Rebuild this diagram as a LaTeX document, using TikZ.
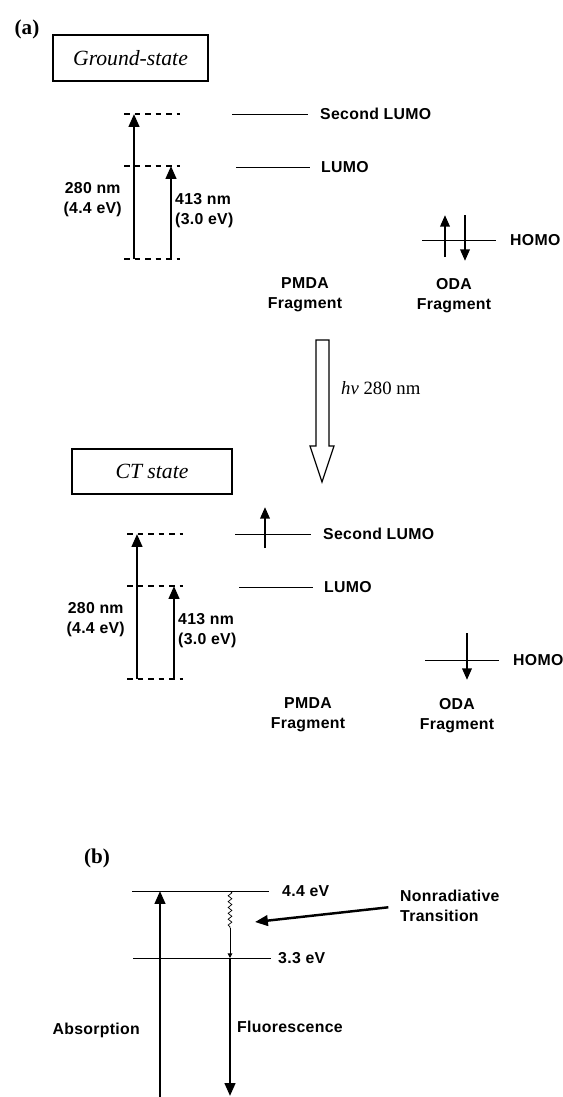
\documentclass[tikz,border=0pt]{standalone}
\usepackage{fontspec}
\setmainfont{Liberation Serif}
\newfontfamily\lblfont[LetterSpace=2]{Liberation Sans}
\usetikzlibrary{arrows.meta,positioning,decorations.pathmorphing}

\tikzset{
  lbl/.style={font=\lblfont\bfseries\fontsize{13.5}{17}\selectfont, inner sep=0pt},
  tag/.style={font=\bfseries\fontsize{18}{20}\selectfont, inner sep=0pt},
  statebox/.style={draw, line width=1.5pt, font=\itshape\fontsize{18.5}{20}\selectfont},
  level/.style={line width=0.8pt},
  virt/.style={line width=1.7pt, dash pattern=on 5pt off 4pt},
  trans/.style={line width=2.1pt, -{Triangle[length=11pt,width=9pt]}},
  spin/.style={line width=2.1pt, -{Triangle[length=10pt,width=8pt]}}
}

\begin{document}
\begin{tikzpicture}[x=0.03cm, y=-0.03cm]
    \useasboundingbox (0,0) rectangle (563,1097);

    % panel tags and state boxes
    \node[tag] (tag-a) at (27,29) {(a)};
    \node[tag] (tag-b) at (97,858) {(b)};
    \node[statebox, minimum width=4.66cm, minimum height=1.40cm] (gs) at (130.5,58) {Ground-state};
    \node[statebox, minimum width=4.81cm, minimum height=1.37cm] (ct) at (152,471.5) {CT state};

    % the two level schemes of (a)
    \foreach \st/\dx/\dy in {g/0/0, c/3/420}{
    \begin{scope}[shift={(\dx,\dy)}]
        \coordinate (top-\st-w) at (124,114);  \coordinate (top-\st-e) at (180,114);
        \coordinate (mid-\st-w) at (124,166);  \coordinate (mid-\st-e) at (180,166);
        \coordinate (bot-\st-w) at (124,259);  \coordinate (bot-\st-e) at (180,259);
        \draw[virt] (top-\st-w) -- (top-\st-e);
        \draw[virt] (mid-\st-w) -- (mid-\st-e);
        \draw[virt] (bot-\st-w) -- (bot-\st-e);
        \coordinate (uv-\st-lo) at (134,259);  \coordinate (uv-\st-hi) at (134,114);
        \coordinate (vis-\st-lo) at (171,259); \coordinate (vis-\st-hi) at (171,166);
        \draw[trans] (uv-\st-lo) -- (uv-\st-hi);
        \draw[trans] (vis-\st-lo) -- (vis-\st-hi);
        \node[lbl, anchor=east, align=center] (uvlbl-\st) at (122,200) {280 nm\\(4.4 eV)};
        \node[lbl, anchor=west, align=left] (vislbl-\st) at (175,211) {413 nm\\(3.0 eV)};
        % fragment orbitals
        \coordinate (slumo-\st-w) at (232,114); \coordinate (slumo-\st-e) at (308,114);
        \coordinate (lumo-\st-w) at (236,167);  \coordinate (lumo-\st-e) at (310,167);
        \coordinate (homo-\st-w) at (422,240);  \coordinate (homo-\st-e) at (496,240);
        \draw[level] (slumo-\st-w) -- (slumo-\st-e);
        \draw[level] (lumo-\st-w) -- (lumo-\st-e);
        \draw[level] (homo-\st-w) -- (homo-\st-e);
        \node[lbl, anchor=west, right=0.36cm of slumo-\st-e] (slumolbl-\st) {Second LUMO};
        \node[lbl, anchor=west, right=0.33cm of lumo-\st-e] (lumolbl-\st) {LUMO};
        \node[lbl, anchor=west, right=0.42cm of homo-\st-e] (homolbl-\st) {HOMO};
        \node[lbl, align=center] (pmda-\st) at (305,295) {PMDA\\Fragment};
        \node[lbl, align=center] (oda-\st) at (454,296) {ODA\\Fragment};
    \end{scope}}

    % electrons
    \coordinate (eg1-lo) at (445,257); \coordinate (eg1-hi) at (445,215);
    \coordinate (eg2-hi) at (465,215); \coordinate (eg2-lo) at (465,261);
    \draw[spin] (eg1-lo) -- (eg1-hi);
    \draw[spin] (eg2-hi) -- (eg2-lo);
    \coordinate (ec1-lo) at (265,548); \coordinate (ec1-hi) at (265,507);
    \coordinate (ec2-hi) at (467,633); \coordinate (ec2-lo) at (467,680);
    \draw[spin] (ec1-lo) -- (ec1-hi);
    \draw[spin] (ec2-hi) -- (ec2-lo);

    % excitation arrow
    \draw[line width=1pt, line join=miter] (316,340) -- (329,340) -- (329,446) -- (334,446)
        -- (322,482) -- (310,446) -- (316,446) -- cycle;
    \node[anchor=west, inner sep=0pt, font=\fontsize{16}{18}\selectfont] (hv) at (341,388) {\textit{hv} 280 nm};

    % (b) levels
    \coordinate (e44-w) at (132,891); \coordinate (e44-e) at (269,891);
    \coordinate (e33-w) at (133,958); \coordinate (e33-e) at (271,958);
    \draw[level] (e44-w) -- (e44-e);
    \draw[level] (e33-w) -- (e33-e);
    \node[lbl, anchor=west, right=0.39cm of e44-e] (e44lbl) {4.4 eV};
    \node[lbl, anchor=west, right=0.21cm of e33-e] (e33lbl) {3.3 eV};

    % absorption, relaxation, fluorescence
    \coordinate (abs-lo) at (160,1100); \coordinate (abs-hi) at (160,891);
    \draw[trans] (abs-lo) -- (abs-hi);
    \coordinate (fl-top) at (230,891); \coordinate (fl-kink) at (230,928);
    \coordinate (fl-mid) at (230,958); \coordinate (fl-lo) at (230,1096);
    \draw[line width=0.6pt, decorate, decoration={snake, amplitude=1.6pt, segment length=5pt}] (fl-top) -- (fl-kink);
    \draw[line width=0.8pt, -{Triangle[length=4pt,width=4pt]}] (fl-kink) -- (fl-mid);
    \draw[trans] (fl-mid) -- (fl-lo);
    \node[lbl, anchor=east] (absorp) at (140,1030) {Absorption};
    \node[lbl, anchor=west] (fluor) at (237,1027) {Fluorescence};
    \node[lbl, anchor=west, align=left] (nonrad) at (400,906) {Nonradiative\\Transition};
    \coordinate (nr-tip) at (255,922);
    \draw[trans, shorten <=10pt] (nonrad.west) -- (nr-tip);
\end{tikzpicture}
\end{document}
